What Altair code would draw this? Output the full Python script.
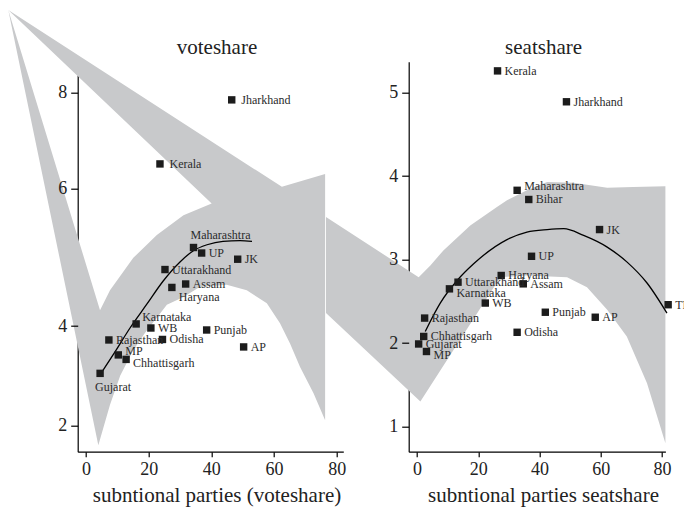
import altair as alt
import pandas as pd

FONT = "Liberation Serif"
BAND = "#c8c9cb"
INK = "#1c1c1c"
TEXT = "#2b2b2b"

# ---------------------------------------------------------------- voteshare
VOTE_STATES = ["Jharkhand", "Kerala", "Maharashtra", "UP", "JK", "Uttarakhand",
               "Assam", "Haryana", "Karnataka", "WB", "Punjab", "Odisha",
               "Rajasthan", "MP", "Chhattisgarh", "AP", "Gujarat"]
VOTE_X = [46.5, 23.6, 34.3, 36.9, 48.4, 25.2, 31.8, 27.4, 16.0, 20.7, 38.5,
          24.4, 7.3, 10.3, 12.8, 50.3, 4.5]
VOTE_Y = [7.85, 6.51, 5.14, 5.06, 4.97, 4.82, 4.61, 4.56, 4.03, 3.96, 3.92,
          3.73, 3.72, 3.42, 3.33, 3.58, 3.05]

VOTE_FIT_X = [5.10, 9.25, 14.04, 19.46, 24.57, 29.99, 34.14, 38.61, 43.71,
              49.14, 52.97]
VOTE_FIT_Y = [3.08, 3.48, 3.96, 4.32, 4.65, 4.93, 5.09, 5.18, 5.23, 5.24, 5.23]

# confidence band outline, in drawing order
VOTE_BAND_X = [4.47, 7.66, 15.1, 22.6, 31.1, 40.1, -24.8, 62.5, 76.3, 76.3,
               72.6, 68.3, 65.1, 61.9, 57.7, 51.3, 44.9, 36.4, 31.1, 25.8,
               22.6, 18.8, 15.1, 10.9, 7.66, 3.93, -24.8]
VOTE_BAND_Y = [4.23, 4.52, 4.99, 5.32, 5.61, 5.78, 9.73, 6.03, 6.30, 2.11,
               2.65, 3.18, 3.65, 4.04, 4.33, 4.52, 4.60, 4.57, 4.42, 4.31,
               4.12, 3.86, 3.52, 3.00, 2.42, 1.61, 9.73]

# ---------------------------------------------------------------- seatshare
SEAT_STATES = ["Kerala", "Jharkhand", "Maharashtra", "Bihar", "JK", "UP",
               "Haryana", "Uttarakhand", "Assam", "Karnataka", "WB", "Punjab",
               "AP", "Rajasthan", "Odisha", "Chhattisgarh", "Gujarat", "MP", "TN"]
SEAT_X = [26.3, 48.8, 32.7, 36.5, 59.6, 37.4, 27.5, 13.4, 34.7, 10.6, 22.3,
          41.9, 58.2, 2.5, 32.7, 2.2, 0.55, 3.1, 82.0]
SEAT_Y = [5.26, 4.89, 3.83, 3.72, 3.36, 3.04, 2.81, 2.73, 2.71, 2.65, 2.48,
          2.37, 2.31, 2.30, 2.13, 2.08, 1.99, 1.90, 2.46]

SEAT_FIT_X = [2.7, 7.6, 13.1, 18.5, 29.4, 35.9, 42.5, 47.9, 54.4, 62.1, 68.6,
              75.1, 81.6]
SEAT_FIT_Y = [2.14, 2.48, 2.75, 2.95, 3.24, 3.33, 3.36, 3.37, 3.29, 3.15,
              2.97, 2.72, 2.36]

SEAT_BAND_X = [1.11, -29.7, -29.7, 0.55, 4.37, 8.62, 17.4, 26.1, 29.4, 35.9,
               42.5, 51.1, 62.1, 70.6, 81.1, 81.1, 75.1, 68.5, 62.1, 55.5,
               49.0, 35.9, 27.2]
SEAT_BAND_Y = [1.30, 2.36, 3.51, 2.79, 2.93, 3.11, 3.41, 3.63, 3.71, 3.83,
               3.93, 3.92, 3.86, 3.87, 3.88, 0.80, 1.52, 2.08, 2.40, 2.67,
               2.79, 2.81, 2.79]

X_TICKS = [0, 20, 40, 60, 80]
VOTE_Y_TICKS = [2, 4, 6, 8]
SEAT_Y_TICKS = [1, 2, 3, 4, 5]

# label placement (dx, dy) relative to each marker
OFFSETS = {
    "right": (7, 0), "wide": (9.5, 0), "above": (-3, -13), "below": (7, 10),
    "upright": (6, -7), "nudge_up": (7, -4), "downright": (7, 4),
    "under": (-5, 14),
}
VOTE_PLACE = {"Kerala": "wide", "Jharkhand": "wide", "Maharashtra": "above",
              "Haryana": "below", "Karnataka": "upright", "MP": "nudge_up",
              "Chhattisgarh": "downright", "Gujarat": "under"}
SEAT_PLACE = {"Maharashtra": "nudge_up", "Karnataka": "downright",
              "MP": "downright"}

H = 390
LEFT_W = 265.6
RIGHT_W = 256.7


def panel(states, xs, ys, fit_x, fit_y, band_x, band_y, x_scale, y_scale,
          y_ticks, width, title, x_title, places):
    pts = pd.DataFrame({"state": states, "x": xs, "y": ys})
    pts["place"] = [places.get(s, "right") for s in states]
    fit = pd.DataFrame({"x": fit_x, "y": fit_y})
    band = pd.DataFrame({"x": band_x, "y": band_y,
                         "i": list(range(len(band_x)))})

    # band outline drawn as a filled path, axis line kept underneath it
    band_layer = alt.Chart(band).mark_line(filled=True, color=BAND).encode(
        x=alt.X("x:Q", scale=x_scale, axis=None),
        y=alt.Y("y:Q", scale=y_scale,
                axis=alt.Axis(orient="left", domain=True, labels=False,
                              ticks=False, grid=False, title=None, zindex=0,
                              domainColor="black", domainWidth=1.2)),
        order=alt.Order("i:Q"),
    )

    # fitted curve; its top axis carries the panel heading
    fit_layer = alt.Chart(fit).mark_line(
        color="black", strokeWidth=1.3, interpolate="monotone"
    ).encode(
        x=alt.X("x:Q", scale=x_scale,
                axis=alt.Axis(orient="top", domain=False, ticks=False,
                              labels=False, grid=False, title=title,
                              titleFont=FONT, titleFontSize=21,
                              titleFontWeight="normal", titleColor="#222",
                              titleX=width / 2 + 6, titleY=-8.7,
                              titleBaseline="alphabetic", titleAlign="center")),
        y=alt.Y("y:Q", scale=y_scale, axis=None),
    )

    pts_layer = alt.Chart(pts).mark_square(size=55, color=INK, opacity=1).encode(
        x=alt.X("x:Q", scale=x_scale,
                axis=alt.Axis(orient="bottom", values=X_TICKS, grid=False,
                              domainColor="black", domainWidth=1.2,
                              tickColor="black", tickWidth=1.2, tickSize=5,
                              labelFont=FONT, labelFontSize=18,
                              labelColor="#222", labelBaseline="alphabetic",
                              labelPadding=18, title=x_title, titleFont=FONT,
                              titleFontSize=21, titleFontWeight="normal",
                              titleColor="#222", titleX=width / 2 + 6,
                              titleY=50, titleBaseline="alphabetic",
                              titleAlign="center", zindex=1)),
        y=alt.Y("y:Q", scale=y_scale,
                axis=alt.Axis(orient="left", values=y_ticks, domain=False,
                              grid=False, tickColor="black", tickWidth=1.2,
                              tickSize=7, labelFont=FONT, labelFontSize=18,
                              labelColor="#222", labelPadding=4, title=None,
                              zindex=1)),
    )

    text_layers = []
    for key in sorted(set(pts["place"])):
        dx, dy = OFFSETS[key]
        text_layers.append(
            alt.Chart(pts)
            .transform_filter(alt.datum.place == key)
            .mark_text(align="left", baseline="middle", dx=dx, dy=dy,
                       font=FONT, fontSize=12, color=TEXT)
            .encode(
                x=alt.X("x:Q", scale=x_scale, axis=None),
                y=alt.Y("y:Q", scale=y_scale, axis=None),
                text="state:N",
            )
        )

    return (
        alt.layer(band_layer, fit_layer, pts_layer, *text_layers)
        .resolve_axis(x="independent", y="independent")
        .properties(width=width, height=H)
    )


vote_x_scale = alt.Scale(domain=[-2.65, 82.1], nice=False, zero=False)
# the vote axis is spaced unevenly, so its scale is piecewise linear
vote_y_scale = alt.Scale(domain=[1.48, 2, 4, 6, 8, 8.37],
                         range=[390, 364, 264.3, 126.6, 31, 13.3],
                         nice=False, zero=False)
seat_x_scale = alt.Scale(domain=[-2.7, 81.1], nice=False, zero=False)
seat_y_scale = alt.Scale(domain=[0.70, 5.37], nice=False, zero=False)

left = panel(VOTE_STATES, VOTE_X, VOTE_Y, VOTE_FIT_X, VOTE_FIT_Y,
             VOTE_BAND_X, VOTE_BAND_Y, vote_x_scale, vote_y_scale,
             VOTE_Y_TICKS, LEFT_W, "voteshare",
             "subntional parties (voteshare)", VOTE_PLACE)
right = panel(SEAT_STATES, SEAT_X, SEAT_Y, SEAT_FIT_X, SEAT_FIT_Y,
              SEAT_BAND_X, SEAT_BAND_Y, seat_x_scale, seat_y_scale,
              SEAT_Y_TICKS, RIGHT_W, "seatshare",
              "subntional parties seatshare", SEAT_PLACE)

chart = (
    alt.hconcat(left, right, spacing=65, bounds="flush")
    .properties(
        autosize=alt.AutoSizeParams(type="none"),
        padding={"left": 77.7, "top": 61.7, "right": 606.3, "bottom": 447.3},
        background="white",
    )
    .configure_view(strokeWidth=0)
)

chart.save("out.html", embed_options={"renderer": "svg", "actions": False})
